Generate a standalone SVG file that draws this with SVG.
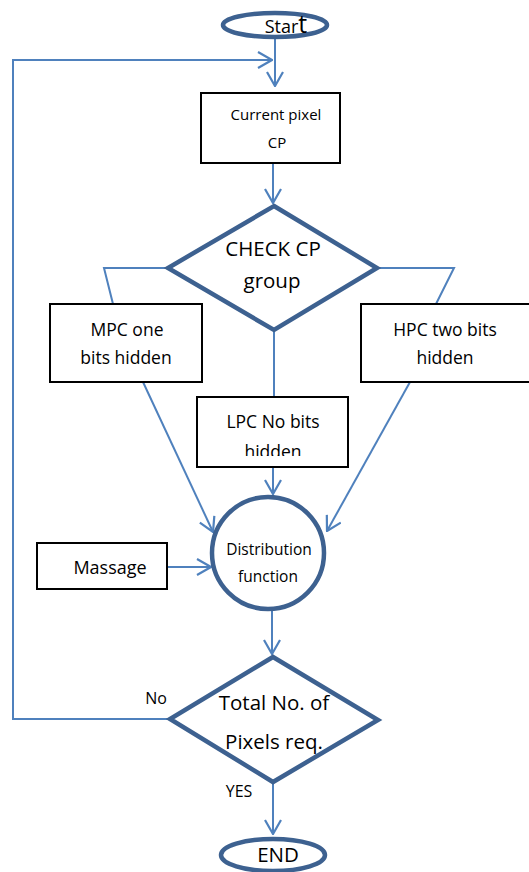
<svg xmlns="http://www.w3.org/2000/svg" width="529" height="872" viewBox="0 0 529 872">
<style>
.t{font-family:"Open Sans","Liberation Sans",sans-serif;fill:#000;text-anchor:middle}
.term{fill:#fff;stroke:#3d6190;stroke-width:4.5}
.box{fill:#fff;stroke:#000;stroke-width:2}
.con{fill:none;stroke:#4f81bd;stroke-width:2}
</style>
<defs>
<marker id="ah" viewBox="0 0 16 18" refX="15" refY="9" markerWidth="16" markerHeight="18" markerUnits="userSpaceOnUse" orient="auto">
<path d="M1,1 L15,9 L1,17" fill="none" stroke="#4f81bd" stroke-width="2.2"/>
</marker>
<clipPath id="lpcclip"><rect x="197" y="397" width="151" height="59"/></clipPath>
</defs>
<rect width="529" height="872" fill="#fff"/>
<g id="connectors">
<line class="con" x1="275" y1="38" x2="275" y2="86" marker-end="url(#ah)"/>
<polyline class="con" points="170,719 13,719 13,60 272,60" marker-end="url(#ah)"/>
<line class="con" x1="273" y1="163" x2="273" y2="203" marker-end="url(#ah)"/>
<polyline class="con" points="167,268 104,268 113,304"/>
<polyline class="con" points="378,268 454,268 436,304"/>
<line class="con" x1="274" y1="331" x2="274" y2="397"/>
<line class="con" x1="143" y1="382" x2="213" y2="532" marker-end="url(#ah)"/>
<line class="con" x1="410" y1="382" x2="327" y2="531" marker-end="url(#ah)"/>
<line class="con" x1="273" y1="467" x2="273" y2="494" marker-end="url(#ah)"/>
<line class="con" x1="167" y1="567" x2="211" y2="567" marker-end="url(#ah)"/>
<line class="con" x1="272" y1="611" x2="272" y2="654" marker-end="url(#ah)"/>
<line class="con" x1="273" y1="783" x2="273" y2="834" marker-end="url(#ah)"/>
</g>
<g id="start">
<ellipse class="term" cx="275" cy="25" rx="52" ry="12"/>
<text class="t" x="286" y="33" font-size="18">Star<tspan font-size="25">t</tspan></text>
</g>
<g id="current-pixel">
<rect class="box" x="201" y="93" width="139" height="70"/>
<text class="t" x="276" y="120" font-size="15">Current pixel</text>
<text class="t" x="277" y="148" font-size="15">CP</text>
</g>
<g id="check-cp">
<polygon class="term" points="274,206 377,268 274,330 168,268"/>
<text class="t" x="273" y="256" font-size="20.5">CHECK CP</text>
<text class="t" x="272" y="288" font-size="20.5">group</text>
</g>
<g id="mpc">
<rect class="box" x="50" y="304" width="152" height="78"/>
<text class="t" x="127" y="336" font-size="17.5">MPC one</text>
<text class="t" x="126" y="364" font-size="17.5">bits hidden</text>
</g>
<g id="hpc">
<rect class="box" x="361" y="304" width="170" height="78"/>
<text class="t" x="445" y="336" font-size="17.5">HPC two bits</text>
<text class="t" x="445" y="364" font-size="17.5">hidden</text>
</g>
<g id="lpc">
<rect class="box" x="197" y="397" width="151" height="70"/>
<text class="t" x="273" y="428" font-size="17.5">LPC No bits</text>
<text class="t" x="273" y="458" font-size="17.5" clip-path="url(#lpcclip)">hidden</text>
</g>
<g id="distribution">
<circle class="term" cx="268" cy="553" r="56"/>
<text class="t" x="269" y="555" font-size="15.5">Distribution</text>
<text class="t" x="268" y="582" font-size="15.5">function</text>
</g>
<g id="massage">
<rect class="box" x="37" y="543" width="130" height="46"/>
<text class="t" x="110" y="574" font-size="18">Massage</text>
</g>
<g id="total">
<polygon class="term" points="273,657 378,720 273,782 170,719"/>
<text class="t" x="274" y="710" font-size="20.5">Total No. of</text>
<text class="t" x="274" y="749" font-size="20.5">Pixels req.</text>
</g>
<text class="t" x="156" y="704" font-size="16">No</text>
<text class="t" x="239" y="797" font-size="16">YES</text>
<g id="end">
<ellipse class="term" cx="273" cy="855" rx="52" ry="16"/>
<text class="t" x="278" y="862" font-size="20.5">END</text>
</g>
</svg>
